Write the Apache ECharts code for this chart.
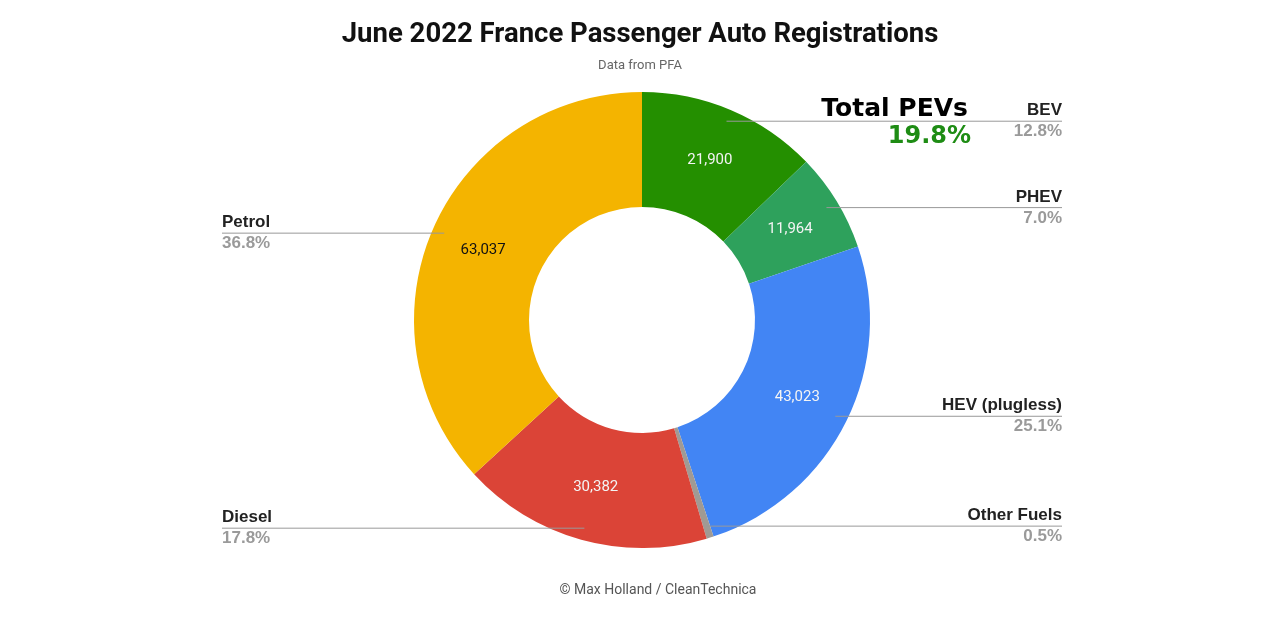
<!DOCTYPE html>
<html>
<head>
<meta charset="utf-8">
<script src="https://cdn.jsdelivr.net/npm/echarts@6/dist/echarts.min.js"></script>
<style>
  html, body { margin: 0; padding: 0; background: #fff; }
  #chart { width: 1280px; height: 632px; }
</style>
</head>
<body>
<div id="chart"></div>
<script>
// fuel types, clockwise from 12 o'clock
var categories = ['BEV', 'PHEV', 'HEV (plugless)', 'Other Fuels', 'Diesel', 'Petrol'];
var registrations = [21900, 11964, 43023, 856, 30382, 63037];
var pevTypes = ['BEV', 'PHEV'];

var colors = ['#248f00', '#2ea15c', '#4285f4', '#a09a94', '#db4437', '#f4b400'];
var valueColors = ['#f4f4f4', '#f4f4f4', '#f4f4f4', '#f4f4f4', '#f4f4f4', '#111'];

var total = registrations.reduce(function (a, b) { return a + b; }, 0);
var pct = function (v) { return (v / total * 100).toFixed(1) + '%'; };
var pevTotal = 0;
categories.forEach(function (c, i) { if (pevTypes.indexOf(c) >= 0) pevTotal += registrations[i]; });

var cx = 642, cy = 320, rIn = 113, rOut = 228, rDot = 216;

// mid angle of each slice (0 = top, clockwise)
var midAngle = [];
var acc = 0;
registrations.forEach(function (v) {
  midAngle.push((acc + v / 2) / total * Math.PI * 2);
  acc += v;
});

var innerData = categories.map(function (c, i) {
  return {
    name: c, value: registrations[i],
    itemStyle: { color: colors[i] },
    label: { show: registrations[i] / total > 0.02, color: valueColors[i] }
  };
});
var outerData = categories.map(function (c, i) {
  return { name: c, value: registrations[i] };
});

var myChart = echarts.init(document.getElementById('chart'));
var option = {
  backgroundColor: '#fff',
  title: [{
    text: 'June 2022 France Passenger Auto Registrations',
    subtext: 'Data from PFA',
    left: 'center',
    top: 16,
    itemGap: 10,
    textStyle: { fontFamily: 'Roboto', fontWeight: 'bold', fontSize: 27.5, color: '#111' },
    subtextStyle: { fontFamily: 'Roboto', fontSize: 13, color: '#666' }
  }, {
    text: '© Max Holland / CleanTechnica',
    left: 653,
    textAlign: 'center',
    top: 578,
    textStyle: { fontFamily: 'Roboto', fontWeight: 'normal', fontSize: 14, color: '#555' }
  }],
  series: [{
    type: 'pie',
    center: [cx, cy],
    radius: [rIn, rOut],
    startAngle: 90,
    clockwise: true,
    silent: true,
    label: {
      position: 'inside',
      fontFamily: 'Roboto',
      fontSize: 15,
      formatter: function (p) { return p.value.toLocaleString('en-US'); }
    },
    labelLine: { show: false },
    data: innerData
  }, {
    type: 'pie',
    center: [cx, cy],
    radius: [rIn, rOut],
    startAngle: 90,
    clockwise: true,
    silent: true,
    z: 5,
    itemStyle: { color: 'rgba(0,0,0,0)' },
    label: {
      position: 'outside',
      alignTo: 'edge',
      edgeDistance: 218,
      formatter: function (p) { return '{n|' + p.name + '}\n{p|' + pct(p.value) + '}'; },
      rich: {
        n: { fontFamily: 'Liberation Sans', fontWeight: 'bold', fontSize: 17, color: '#222', lineHeight: 21 },
        p: { fontFamily: 'Liberation Sans', fontWeight: 'bold', fontSize: 17, color: '#9a9a9a', lineHeight: 21 }
      }
    },
    labelLine: {
      show: true, length: 0, length2: 10,
      lineStyle: { color: '#999', width: 1 }
    },
    labelLayout: function (params) {
      var a = midAngle[params.dataIndex];
      var px = cx + Math.sin(a) * rDot;
      var py = cy - Math.cos(a) * rDot;
      var r = params.labelRect;
      if (px > cx) {
        var ex = r.x + r.width;
        return { y: py, labelLinePoints: [[px, py], [ex, py], [ex, py]] };
      }
      var lx = r.x + 4;
      return { x: lx, y: py, labelLinePoints: [[px, py], [lx, py], [lx, py]] };
    },
    data: outerData
  }],
  graphic: [{
    type: 'text',
    right: 1280 - 968,
    top: 97,
    z: 100,
    style: { text: 'Total PEVs', fontFamily: 'DejaVu Sans', fontWeight: 'bold', fontSize: 25, fill: '#000' }
  }, {
    type: 'text',
    right: 1280 - 971,
    top: 125,
    z: 100,
    style: { text: pct(pevTotal), fontFamily: 'DejaVu Sans', fontWeight: 'bold', fontSize: 24, fill: '#1e8c14' }
  }]
};
myChart.setOption(option);
</script>
</body>
</html>
